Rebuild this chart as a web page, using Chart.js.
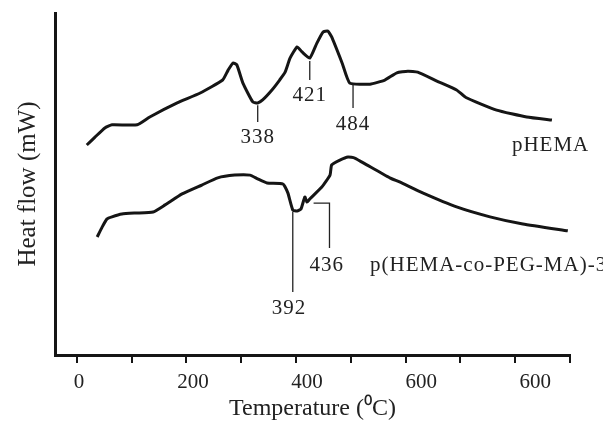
<!DOCTYPE html>
<html>
<head>
<meta charset="utf-8">
<script src="https://cdn.jsdelivr.net/npm/chart.js@4/dist/chart.umd.min.js"></script>
<style>
  body { margin: 0; background: #fff; }
  #wrap { width: 603px; height: 423px; }
</style>
</head>
<body>
<div id="wrap"><canvas id="dscChart" width="603" height="423"></canvas></div>
<script>
// temperature (°C) and heat flow (arbitrary units, 0-100)
var hemaT = [18, 33, 51, 64, 110, 133, 183, 225, 266, 276, 285, 292, 303, 321, 330, 339, 356, 370, 380, 389,
             402, 411, 425, 438, 449, 458, 465, 484, 498, 535, 562, 584, 604, 622, 657, 693, 710, 766, 821, 867];
var hemaHF = [61.4, 63.7, 66.4, 67.3, 67.3, 69.6, 73.7, 76.6, 80.4, 83.3, 85.4, 84.8, 79.5, 74.0, 73.7, 74.6, 77.5, 80.4, 82.7, 86.8,
              90.1, 88.6, 86.8, 91.2, 94.4, 94.7, 93.0, 85.4, 79.5, 79.2, 80.4, 82.5, 83.0, 82.7, 80.1, 77.5, 75.3, 71.6, 69.6, 68.7];

var pegT = [37, 46, 55, 64, 82, 106, 139, 161, 192, 228, 257, 288, 316, 330, 347, 376, 385, 394, 402, 409,
            416, 420, 425, 447, 462, 465, 480, 495, 507, 529, 571, 589, 631, 693, 754, 814, 896];
var pegHF = [34.5, 37.4, 39.8, 40.4, 41.2, 41.5, 41.8, 43.9, 47.1, 49.7, 51.8, 52.6, 52.6, 51.5, 50.3, 50.0, 47.4, 42.4, 42.1, 42.7,
             46.2, 44.7, 45.6, 49.1, 52.6, 55.6, 57.0, 57.9, 57.6, 55.6, 51.8, 50.6, 47.4, 43.3, 40.4, 38.3, 36.3];

var seriesNames = ['pHEMA', 'p(HEMA-co-PEG-MA)-3'];

// tick marks every 100 on the plotted scale, labels printed on the figure
var tickMarks = [0, 100, 200, 300, 400, 500, 600, 700, 800, 900];
var labelValues = [0, 200, 400, 600, 800];
var tickLabels = ['0', '200', '400', '600', '600'];

// peak temperatures marked on the curves
var peaks = [
  { text: '338', x: 330, y0: 73.0, y1: 68.1, ty: 63.5 },
  { text: '421', x: 425, y0: 86.0, y1: 80.4, ty: 76.0 },
  { text: '484', x: 504, y0: 79.2, y1: 72.2, ty: 67.5 },
  { text: '392', x: 394, y0: 41.8, y1: 18.4, ty: 13.7, tx: 387 },
  { text: '436', x: 432, y0: 44.4, y1: 31.3, ty: 26.3, tx: 456, elbow: 461 }
];

var serif = "'Liberation Serif', 'Times New Roman', serif";
var ink = '#151515';

function toPoints(xs, ys) {
  return xs.map(function (x, i) { return { x: x, y: ys[i] }; });
}

var peakLabels = {
  id: 'peakLabels',
  afterDatasetsDraw: function (chart) {
    var ctx = chart.ctx, xs = chart.scales.x, ys = chart.scales.y;
    ctx.save();
    ctx.strokeStyle = '#222';
    ctx.lineWidth = 1.3;
    ctx.fillStyle = '#222';
    ctx.font = '21px ' + serif;
    ctx.letterSpacing = '1px';
    ctx.textAlign = 'center';
    ctx.textBaseline = 'middle';
    peaks.forEach(function (p) {
      var px = xs.getPixelForValue(p.x);
      ctx.beginPath();
      if (p.elbow) {
        var ex = xs.getPixelForValue(p.elbow);
        ctx.moveTo(px, ys.getPixelForValue(p.y0));
        ctx.lineTo(ex, ys.getPixelForValue(p.y0));
        ctx.lineTo(ex, ys.getPixelForValue(p.y1));
      } else {
        ctx.moveTo(px, ys.getPixelForValue(p.y0));
        ctx.lineTo(px, ys.getPixelForValue(p.y1));
      }
      ctx.stroke();
      ctx.fillText(p.text, xs.getPixelForValue(p.tx || p.x), ys.getPixelForValue(p.ty));
    });
    // series names
    ctx.textAlign = 'left';
    ctx.fillText(seriesNames[0], xs.getPixelForValue(794), ys.getPixelForValue(61.4));
    ctx.fillText(seriesNames[1], xs.getPixelForValue(535), ys.getPixelForValue(26.3));
    ctx.restore();
  }
};

var ctx = document.getElementById('dscChart').getContext('2d');
var chart = new Chart(ctx, {
  type: 'line',
  data: {
    datasets: [{
      label: seriesNames[0],
      data: toPoints(hemaT, hemaHF),
      borderColor: ink,
      borderWidth: 3,
      pointRadius: 0,
      tension: 0.15,
      fill: false
    },
    {
      label: seriesNames[1],
      data: toPoints(pegT, pegHF),
      borderColor: ink,
      borderWidth: 3,
      pointRadius: 0,
      tension: 0.15,
      fill: false
    }]
  },
  options: {
    responsive: false,
    animation: false,
    layout: { padding: { top: 13, right: 33, left: 0, bottom: 0 } },
    plugins: { legend: { display: false }, tooltip: { enabled: false } },
    scales: {
      x: {
        type: 'linear',
        min: -40,
        max: 900,
        weight: 0,
        afterBuildTicks: function (axis) {
          axis.ticks = tickMarks.map(function (v) { return { value: v }; });
        },
        afterFit: function (axis) { axis.height = 1; },
        ticks: { display: false },
        grid: { drawOnChartArea: false, drawTicks: true, tickLength: 8, color: ink, lineWidth: 2 },
        border: { display: true, width: 3, color: ink }
      },
      x2: {
        type: 'linear',
        position: 'bottom',
        min: -42,
        max: 861,
        weight: 1,
        afterBuildTicks: function (axis) {
          axis.ticks = labelValues.map(function (v) { return { value: v }; });
        },
        afterFit: function (axis) { axis.height = 67; },
        ticks: {
          padding: 6,
          color: '#222',
          font: { family: serif, size: 21 },
          callback: function (v) {
            var i = labelValues.indexOf(v);
            return i >= 0 ? tickLabels[i] : '';
          }
        },
        grid: { display: false },
        border: { display: false },
        title: {
          display: true,
          text: 'Temperature (\u2070C)',
          color: '#222',
          font: { family: serif, size: 24 },
          padding: { top: 0, bottom: 0 }
        }
      },
      y: {
        min: 0,
        max: 100,
        afterFit: function (axis) { axis.width = 55; },
        ticks: { display: false },
        grid: { display: false },
        border: { display: true, width: 3, color: ink },
        title: {
          display: true,
          text: 'Heat flow (mW)',
          color: '#222',
          font: { family: serif, size: 25 },
          padding: { top: 13, bottom: 0 }
        }
      }
    }
  },
  plugins: [peakLabels]
});
</script>
</body>
</html>
